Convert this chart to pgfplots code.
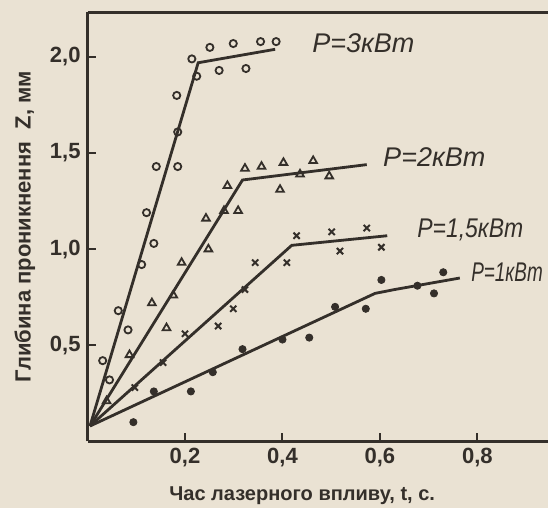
\documentclass[border=0pt]{standalone}
\usepackage{pgfplots}
\pgfplotsset{compat=1.18}
\usepackage{fontspec}
\setmainfont{Liberation Sans}
\usetikzlibrary{calc,backgrounds}

\definecolor{ink}{RGB}{52,47,42}
\definecolor{paper}{RGB}{234,226,211}

\begin{document}
\begin{tikzpicture}
  \begin{axis}[
    name=ax,
    scale only axis,
    width=230pt, height=214.5pt,
    xmin=0, xmax=0.945,
    ymin=0, ymax=2.234,
    axis x line*=bottom,
    axis y line*=left,
    axis line style={ink, line width=1.5pt},
    xtick={0.2,0.4,0.6,0.8},
    ytick={0.5,1.0,1.5,2.0},
    tick align=inside,
    major tick length=4pt,
    tick style={ink, line width=1pt},
    /pgf/number format/assume math mode=true,
    /pgf/number format/use comma,
    /pgf/number format/fixed,
    /pgf/number format/fixed zerofill,
    /pgf/number format/precision=1,
    ticklabel style={font=\fontsize{11}{13}\selectfont\bfseries, text=ink},
    xlabel={Час лазерного впливу, t, с.},
    ylabel={Глибина проникнення\ \ Z, мм},
    xlabel style={at={(axis description cs:0.466,0)}, yshift=-27pt, anchor=center,
      font=\fontsize{10}{12}\selectfont\bfseries, text=ink},
    ylabel style={at={(axis description cs:-0.136,0.5)}, anchor=center,
      font=\fontsize{11}{13}\selectfont\bfseries, text=ink},
    clip=false,
  ]
    % fitted lines
    \addplot[ink, line width=1.4pt] coordinates {(0.005,0.08) (0.227,1.97) (0.385,2.04)};
    \addplot[ink, line width=1.4pt] coordinates {(0.005,0.08) (0.318,1.36) (0.573,1.44)};
    \addplot[ink, line width=1.4pt] coordinates {(0.005,0.08) (0.419,1.02) (0.615,1.07)};
    \addplot[ink, line width=1.4pt] coordinates {(0.005,0.08) (0.59,0.77) (0.63,0.79) (0.764,0.85)};

    % P = 3 kW
    \addplot[only marks, mark=o, mark size=1.8pt, ink, line width=0.9pt] coordinates {
      (0.031,0.42) (0.045,0.32) (0.063,0.68) (0.083,0.58) (0.111,0.92)
      (0.136,1.03) (0.121,1.19) (0.141,1.43) (0.185,1.43) (0.185,1.61)
      (0.183,1.80) (0.224,1.90) (0.214,1.99) (0.251,2.05) (0.270,1.93)
      (0.299,2.07) (0.325,1.94) (0.355,2.08) (0.387,2.08)
    };
    % P = 2 kW
    \addplot[only marks, mark=triangle, mark size=2.2pt, ink, line width=0.9pt] coordinates {
      (0.039,0.21) (0.086,0.45) (0.162,0.59) (0.132,0.72) (0.176,0.76)
      (0.193,0.93) (0.248,1.00) (0.243,1.16) (0.280,1.20) (0.309,1.20)
      (0.287,1.33) (0.323,1.42) (0.357,1.43) (0.402,1.45) (0.395,1.31)
      (0.436,1.39) (0.463,1.46) (0.496,1.38)
    };
    % P = 1.5 kW
    \addplot[only marks, mark=x, mark size=2.2pt, ink, line width=1pt] coordinates {
      (0.097,0.28) (0.155,0.41) (0.200,0.56) (0.268,0.60) (0.299,0.69)
      (0.323,0.79) (0.344,0.93) (0.409,0.93) (0.429,1.07) (0.501,1.09)
      (0.518,0.99) (0.573,1.11) (0.603,1.01)
    };
    % P = 1 kW
    \addplot[only marks, mark=*, mark size=1.8pt, ink] coordinates {
      (0.094,0.10) (0.136,0.26) (0.212,0.26) (0.257,0.36) (0.318,0.48)
      (0.400,0.53) (0.455,0.54) (0.508,0.70) (0.571,0.69) (0.603,0.84)
      (0.677,0.81) (0.711,0.77) (0.730,0.88)
    };

    \draw[ink, line width=1.5pt] (rel axis cs:0,1) -- (rel axis cs:1,1);

    \begin{scope}[font=\fontsize{13.5}{16}\selectfont\itshape, text=ink, inner sep=0pt]
      \node[anchor=west] at (axis cs:0.4605,2.07) {P=3кВт};
      \node[anchor=west] at (axis cs:0.606,1.48) {P=2кВт};
      \node[anchor=west, xscale=0.85] at (axis cs:0.676,1.10) {P=1,5кВт};
      \node[anchor=west, xscale=0.7] at (axis cs:0.787,0.88) {P=1кВт};
    \end{scope}
  \end{axis}
  \pgfresetboundingbox
  \path[use as bounding box] ($(ax.south west)+(-43.75pt,-33.5pt)$) rectangle ($(ax.north east)+(0,6pt)$);
  \begin{scope}[on background layer]
    \fill[paper] ($(ax.south west)+(-43.75pt,-33.5pt)$) rectangle ($(ax.north east)+(0,6pt)$);
  \end{scope}
\end{tikzpicture}
\end{document}
